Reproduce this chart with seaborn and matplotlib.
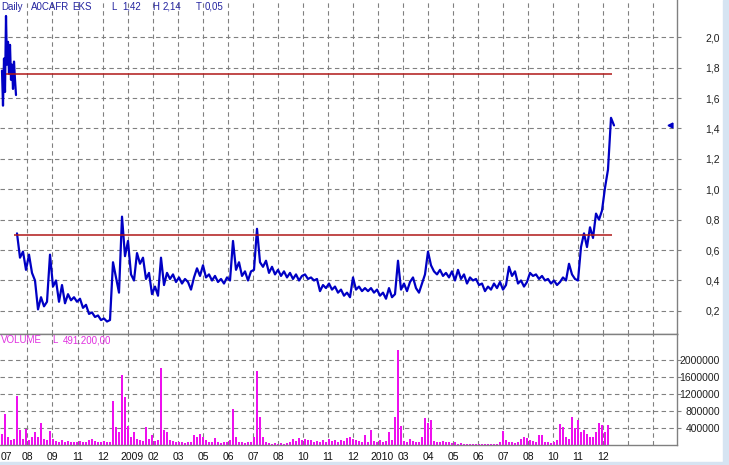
import numpy as np
import pandas as pd
import seaborn as sns
import matplotlib.pyplot as plt
from matplotlib.patches import Rectangle

sns.set_style('white')
plt.rcParams['font.family'] = ['Liberation Sans', 'DejaVu Sans']

# ---- data (x = trading day index) ----
# first few days, before the gap
early_close = [1.78, 1.55, 1.86, 1.64, 2.14, 1.82, 1.97, 1.76, 1.95, 1.72,
               1.82, 1.66, 1.84, 1.72, 1.62]
# main series, every 3rd trading day from day 17
close = [0.71, 0.55, 0.59, 0.47, 0.57, 0.45, 0.40, 0.21, 0.29, 0.23,
         0.26, 0.57, 0.36, 0.40, 0.26, 0.37, 0.25, 0.31, 0.27, 0.29,
         0.26, 0.28, 0.22, 0.24, 0.18, 0.19, 0.16, 0.17, 0.14, 0.15,
         0.13, 0.14, 0.52, 0.42, 0.32, 0.82, 0.56, 0.66, 0.44, 0.40,
         0.58, 0.51, 0.55, 0.41, 0.45, 0.31, 0.36, 0.30, 0.55, 0.37,
         0.45, 0.41, 0.44, 0.39, 0.42, 0.38, 0.41, 0.39, 0.34, 0.42,
         0.48, 0.43, 0.50, 0.42, 0.44, 0.40, 0.43, 0.39, 0.41, 0.38,
         0.42, 0.40, 0.66, 0.47, 0.52, 0.43, 0.46, 0.40, 0.46, 0.47,
         0.74, 0.52, 0.49, 0.53, 0.45, 0.49, 0.44, 0.47, 0.43, 0.46,
         0.42, 0.45, 0.41, 0.44, 0.40, 0.43, 0.44, 0.41, 0.42, 0.40,
         0.41, 0.33, 0.37, 0.35, 0.38, 0.34, 0.36, 0.32, 0.34, 0.30,
         0.32, 0.29, 0.42, 0.34, 0.36, 0.33, 0.35, 0.33, 0.35, 0.32,
         0.34, 0.30, 0.32, 0.28, 0.35, 0.29, 0.31, 0.53, 0.34, 0.38,
         0.33, 0.39, 0.42, 0.35, 0.32, 0.38, 0.44, 0.59, 0.50, 0.46,
         0.44, 0.47, 0.43, 0.45, 0.42, 0.46, 0.40, 0.47, 0.41, 0.44,
         0.38, 0.42, 0.40, 0.41, 0.37, 0.38, 0.33, 0.36, 0.34, 0.38,
         0.35, 0.39, 0.34, 0.37, 0.49, 0.43, 0.46, 0.38, 0.40, 0.36,
         0.39, 0.45, 0.43, 0.44, 0.41, 0.43, 0.40, 0.41, 0.38, 0.40,
         0.37, 0.39, 0.42, 0.40, 0.51, 0.44, 0.41, 0.40, 0.62, 0.71,
         0.62, 0.75, 0.68, 0.84, 0.80, 0.86, 1.01, 1.13, 1.47, 1.42]
# volume in thousands, every 3rd trading day from day 2
vol_k = [250, 730, 200, 120, 150, 1160, 350, 150, 380, 120,
         180, 300, 200, 520, 150, 120, 330, 150, 100, 80,
         120, 60, 90, 60, 80, 60, 100, 60, 80, 120,
         140, 100, 80, 60, 100, 80, 60, 1040, 430, 300,
         1660, 1140, 450, 200, 310, 150, 120, 100, 420, 150,
         240, 100, 120, 1820, 360, 300, 120, 100, 60, 80,
         60, 40, 80, 60, 230, 200, 250, 180, 120, 60,
         80, 170, 60, 40, 80, 60, 120, 850, 200, 80,
         60, 40, 60, 80, 200, 1750, 660, 180, 60, 40,
         30, 40, 30, 50, 30, 40, 60, 150, 100, 160,
         120, 150, 110, 130, 80, 100, 60, 120, 80, 150,
         100, 130, 80, 120, 100, 160, 200, 150, 120, 100,
         80, 240, 60, 350, 100, 80, 120, 60, 100, 300,
         120, 660, 2250, 450, 100, 80, 150, 100, 60, 80,
         200, 640, 520, 600, 100, 60, 80, 100, 60, 80,
         40, 60, 30, 40, 20, 30, 20, 30, 20, 30,
         20, 30, 20, 30, 20, 30, 80, 330, 120, 80,
         60, 40, 60, 150, 200, 170, 120, 100, 60, 240,
         240, 80, 60, 40, 60, 120, 500, 420, 200, 150,
         660, 400, 600, 300, 350, 250, 200, 180, 300, 530,
         470, 300, 470]
resistance = 1.76
support = 0.70
last_close = 1.42

month_labels = ['07', '08', '09', '11', '12', '2009', '02', '03', '05', '06',
                '07', '08', '10', '11', '12', '2010', '03', '04', '05', '06',
                '07', '08', '10', '11', '12']
label_days = [6, 27, 52, 78, 103, 132, 153, 178, 203, 228,
              253, 278, 303, 328, 353, 382, 403, 428, 453, 478,
              503, 528, 553, 578, 603]
grid_days = [27, 52, 78, 103, 128, 153, 178, 203, 228, 253, 278, 303, 328,
             353, 378, 403, 428, 453, 478, 503, 528, 553, 578, 603, 628, 653]

early_df = pd.DataFrame({'day': np.arange(2, 2 + len(early_close)), 'close': early_close})
main_df = pd.DataFrame({'day': np.arange(17, 17 + 3 * len(close), 3), 'close': close})
vol_df = pd.DataFrame({'day': np.arange(2, 2 + 3 * len(vol_k), 3),
                       'volume': np.array(vol_k) * 1000})

# ---- figure ----
W, H = 729, 465
fig = plt.figure(figsize=(W / 100, H / 100), dpi=100)
fig.patch.set_facecolor('white')
fig.patches.append(Rectangle((723 / W, 0), 6 / W, 1, transform=fig.transFigure,
                             color='#d6e4f2', zorder=0))
fig.patches.append(Rectangle((0, 0), 1, 3 / H, transform=fig.transFigure,
                             color='#d6e4f2', zorder=0))

ax = fig.add_axes([0, 1 - 334 / H, 677 / W, 334 / H])
axv = fig.add_axes([0, 1 - 445 / H, 677 / W, 111 / H])

grid_kw = dict(color='#808080', linestyle=(0, (4, 3)), linewidth=0.8)
blue = '#0000c4'

# price panel
sns.lineplot(data=early_df, x='day', y='close', ax=ax, color=blue, linewidth=1.6)
sns.lineplot(data=main_df, x='day', y='close', ax=ax, color=blue, linewidth=1.6)
ax.hlines(resistance, 6, 612, color='#b01818', linewidth=1.1)
ax.hlines(support, 14, 612, color='#b01818', linewidth=1.1)
ax.plot([0.99], [last_close], marker='<', markersize=3.5, color=blue,
        transform=ax.get_yaxis_transform(), clip_on=False)

ax.set_xlim(0, 677)
ax.set_ylim(0.048, 2.245)
ax.set_xticks(grid_days)
ax.set_xticklabels([])
yt = [0.2, 0.4, 0.6, 0.8, 1.0, 1.2, 1.4, 1.6, 1.8, 2.0]
ax.set_yticks(yt)
ax.set_yticklabels([f'{v:.1f}'.replace('.', ',') for v in yt])
ax.yaxis.tick_right()
ax.tick_params(axis='y', length=3, color='#808080', width=0.8, pad=28,
               labelsize=7.5, labelcolor='#202020')
ax.tick_params(axis='x', length=0)
plt.setp(ax.get_yticklabels(), ha='right')
ax.grid(True, **grid_kw)
ax.set_xlabel('')
ax.set_ylabel('')
for s in ['top', 'left']:
    ax.spines[s].set_visible(False)
for s in ['right', 'bottom']:
    ax.spines[s].set_color('#808080')
    ax.spines[s].set_linewidth(1)

# volume panel
axv.bar(vol_df['day'], vol_df['volume'], width=2.0, color='#ee10ee', linewidth=0)
axv.set_xlim(0, 677)
axv.set_ylim(0, 2627000)
axv.xaxis.remove_overlapping_locs = False
axv.set_xticks(grid_days)
axv.set_xticklabels([])
axv.set_xticks(label_days, month_labels, minor=True)
axv.tick_params(axis='x', which='major', length=4, color='#808080', width=0.8)
axv.tick_params(axis='x', which='minor', length=0, pad=5, labelsize=7.5,
                labelcolor='#101010')
vt = [400000, 800000, 1200000, 1600000, 2000000]
axv.set_yticks(vt)
axv.set_yticklabels([str(v) for v in vt])
axv.yaxis.tick_right()
axv.tick_params(axis='y', length=3, color='#808080', width=0.8, pad=28,
                labelsize=7.5, labelcolor='#202020')
plt.setp(axv.get_yticklabels(), ha='right')
axv.grid(True, which='major', **grid_kw)
axv.set_axisbelow(True)
axv.spines['left'].set_visible(False)
for s in ['right', 'bottom', 'top']:
    axv.spines[s].set_color('#808080')
    axv.spines[s].set_linewidth(1)

# header texts
title_parts = [(1, 'Daily'), (31, 'A0CAFR'), (72, 'EKS'), (111, 'L'), (122, '1,42'),
               (152, 'H'), (163, '2,14'), (196, 'T'), (205, '0,05')]
for xp, t in title_parts:
    fig.text(xp / W, 1 - 6.5 / H, t, fontsize=7, color='#2424a0', va='center')
vol_parts = [(1, 'VOLUME'), (52, 'L'), (63, '491.200,00')]
for xp, t in vol_parts:
    fig.text(xp / W, 1 - 340 / H, t, fontsize=7, color='#e030e0', va='center')

fig.savefig('out.png', dpi=100)
